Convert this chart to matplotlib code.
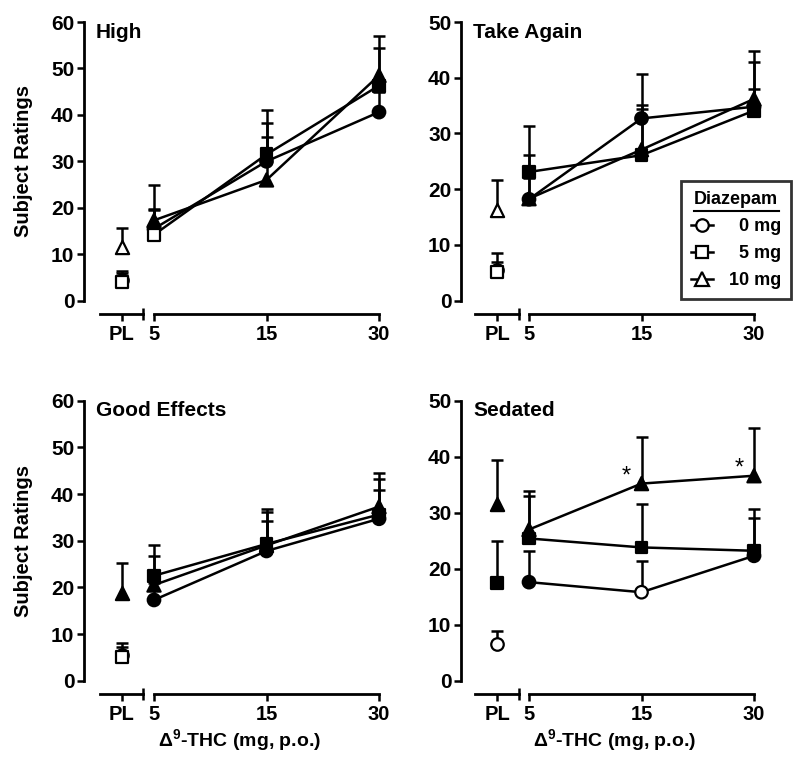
import matplotlib
matplotlib.use('Agg')
import matplotlib.pyplot as plt
from matplotlib.lines import Line2D

plt.rcParams['font.family'] = ['Liberation Sans', 'DejaVu Sans']
plt.rcParams['font.weight'] = 'bold'
plt.rcParams['mathtext.fontset'] = 'custom'
plt.rcParams['mathtext.rm'] = 'Liberation Sans:bold'
plt.rcParams['mathtext.it'] = 'Liberation Sans:bold'
plt.rcParams['mathtext.bf'] = 'Liberation Sans:bold'

# THC doses (PL = placebo), diazepam groups
thc_doses = ['PL', '5', '15', '30']
diazepam = ['0 mg', '5 mg', '10 mg']
markers = ['o', 's', '^']
msizes = [9, 8.5, 9.5]

# means and top of the SEM bar, rows = diazepam 0/5/10 mg, cols = PL,5,15,30
high_mean = [[4.5, 15.5, 30.0, 40.6], [4.0, 14.2, 31.5, 46.3], [11.5, 17.3, 26.0, 48.5]]
high_top = [[6.0, 19.8, 38.3, 45.0], [6.5, 19.5, 41.0, 54.5], [15.7, 25.0, 35.3, 56.9]]
high_filled = [[0, 1, 1, 1], [0, 0, 1, 1], [0, 1, 1, 1]]

again_mean = [[5.5, 18.2, 32.7, 34.8], [5.2, 23.1, 26.1, 34.1], [16.2, 18.3, 27.1, 36.2]]
again_top = [[7.0, 26.2, 40.7, 42.8], [8.6, 31.4, 34.4, 38.0], [21.7, 22.0, 35.1, 44.8]]
again_filled = [[0, 1, 1, 1], [0, 1, 1, 1], [0, 1, 1, 1]]

good_mean = [[5.6, 17.3, 27.8, 34.7], [5.1, 22.5, 29.3, 35.6], [18.9, 20.5, 29.0, 37.3]]
good_top = [[7.3, 21.0, 34.3, 40.9], [8.0, 29.1, 36.9, 43.2], [25.3, 26.8, 36.2, 44.6]]
good_filled = [[0, 1, 1, 1], [0, 1, 1, 1], [1, 1, 1, 1]]

sed_mean = [[6.5, 17.6, 15.8, 22.3], [17.5, 25.4, 23.8, 23.2], [31.6, 27.0, 35.2, 36.6]]
sed_top = [[8.9, 23.2, 21.4, 29.0], [25.0, 33.0, 31.6, 30.7], [39.5, 33.9, 43.6, 45.1]]
sed_filled = [[0, 1, 0, 1], [1, 1, 1, 1], [1, 1, 1, 1]]
sed_stars = [(2, 2), (2, 3)]

W, H = 800, 773
fig = plt.figure(figsize=(W / 100, H / 100), dpi=100)

cols = [dict(yax=84, pl=122, pl0=100, pl1=143, m0=154, m1=379),
        dict(yax=461, pl=497, pl0=475, pl1=519, m0=529, m1=754)]
rows = [(22, 300.7), (400.7, 680.7)]


def fbox(x0, x1, yt, yb):
    return [x0 / W, 1 - yb / H, (x1 - x0) / W, (yb - yt) / H]


def draw_points(ax, xs, means, tops, fills, g):
    ax.vlines(xs, means, tops, color='k', lw=1.8, zorder=2, clip_on=False)
    ax.plot(xs, tops, ls='none', marker='_', ms=8.5, mew=1.8, color='k', zorder=2, clip_on=False)
    fc = ['k' if f else 'white' for f in fills]
    ax.scatter(xs, means, s=msizes[g] ** 2, marker=markers[g], facecolors=fc,
               edgecolors='k', linewidths=1.6, zorder=4 + g * 0.1, clip_on=False)


def panel(c, r, title, mean, top, filled, ymax, stars=()):
    cc = cols[c]
    yt, yb = rows[r]
    axp = fig.add_axes(fbox(cc['yax'], cc['pl1'], yt, yb))
    axm = fig.add_axes(fbox(cc['m0'], cc['m1'], yt, yb))
    for ax in (axp, axm):
        ax.set_ylim(0, ymax)
        ax.patch.set_visible(False)
        ax.spines['top'].set_visible(False)
        ax.spines['right'].set_visible(False)
        ax.spines['bottom'].set_position(('outward', 9.6))
        ax.spines['bottom'].set_linewidth(2)
        ax.spines['left'].set_linewidth(2)
        ax.tick_params(axis='y', which='major', length=5, width=1.8, labelsize=15, pad=2)
        ax.tick_params(axis='x', which='major', length=5, width=1.8, labelsize=14.5, pad=3)
        ax.tick_params(axis='x', which='minor', direction='inout', length=8, width=1.8)
    axp.set_xlim(cc['yax'] - cc['pl'], cc['pl1'] - cc['pl'])
    axp.spines['bottom'].set_bounds(cc['pl0'] - cc['pl'], cc['pl1'] - cc['pl'])
    axp.set_xticks([0])
    axp.set_xticklabels([thc_doses[0]])
    axp.set_xticks([cc['pl1'] - cc['pl']], minor=True)
    axp.set_yticks(range(0, ymax + 1, 10))
    axm.set_xlim(0, 2)
    axm.set_xticks([0, 1, 2])
    axm.set_xticklabels(thc_doses[1:])
    axm.set_xticks([0], minor=True)
    axm.spines['left'].set_visible(False)
    axm.set_yticks([])

    for g in range(3):
        draw_points(axp, [0], mean[g][:1], top[g][:1], filled[g][:1], g)
        axm.plot([0, 1, 2], mean[g][1:], color='k', lw=1.8, zorder=3 + g * 0.1, clip_on=False)
        draw_points(axm, [0, 1, 2], mean[g][1:], top[g][1:], filled[g][1:], g)

    for g, d in stars:
        axm.annotate('*', xy=(d - 1, mean[g][d]), xytext=(-11, 5), textcoords='offset points',
                     ha='center', va='center', fontsize=17, fontweight='normal')

    fig.text((cc['yax'] + 12) / W, 1 - (yt + 10) / H, title, fontsize=15,
             ha='left', va='center')
    if c == 0:
        fig.text(24 / W, 1 - ((yt + yb) / 2) / H, 'Subject Ratings', rotation=90,
                 fontsize=14.5, ha='center', va='center')
    if r == 1:
        fig.text(((cc['pl0'] + cc['m1']) / 2) / W, 1 - 740 / H,
                 r'$\Delta^{9}$-THC (mg, p.o.)', fontsize=14, ha='center', va='center')
    return axm


panel(0, 0, 'High', high_mean, high_top, high_filled, 60)
ax_again = panel(1, 0, 'Take Again', again_mean, again_top, again_filled, 50)
panel(0, 1, 'Good Effects', good_mean, good_top, good_filled, 60)
panel(1, 1, 'Sedated', sed_mean, sed_top, sed_filled, 50, sed_stars)

handles = [Line2D([0], [0], color='k', lw=1.8, marker=m, ms=s, mfc='white', mec='k', mew=1.6)
           for m, s in zip(markers, msizes)]
labels = ['\u2007' + d if len(d) < 5 else d for d in diazepam]
leg = ax_again.legend(handles, labels, title='Diazepam', loc='lower right',
                      bbox_to_anchor=(791 / W, 1 - 299 / H), bbox_transform=fig.transFigure,
                      fontsize=13, title_fontsize=13, frameon=True, fancybox=False,
                      edgecolor='k', handlelength=1.2, handletextpad=0.9,
                      labelspacing=0.55, borderpad=0.55, borderaxespad=0)
leg.get_frame().set_linewidth(2)
fig.add_artist(Line2D([694 / W, 779 / W], [1 - 211 / H, 1 - 211 / H], color='k', lw=1.5))

fig.savefig('out.png', dpi=100)
